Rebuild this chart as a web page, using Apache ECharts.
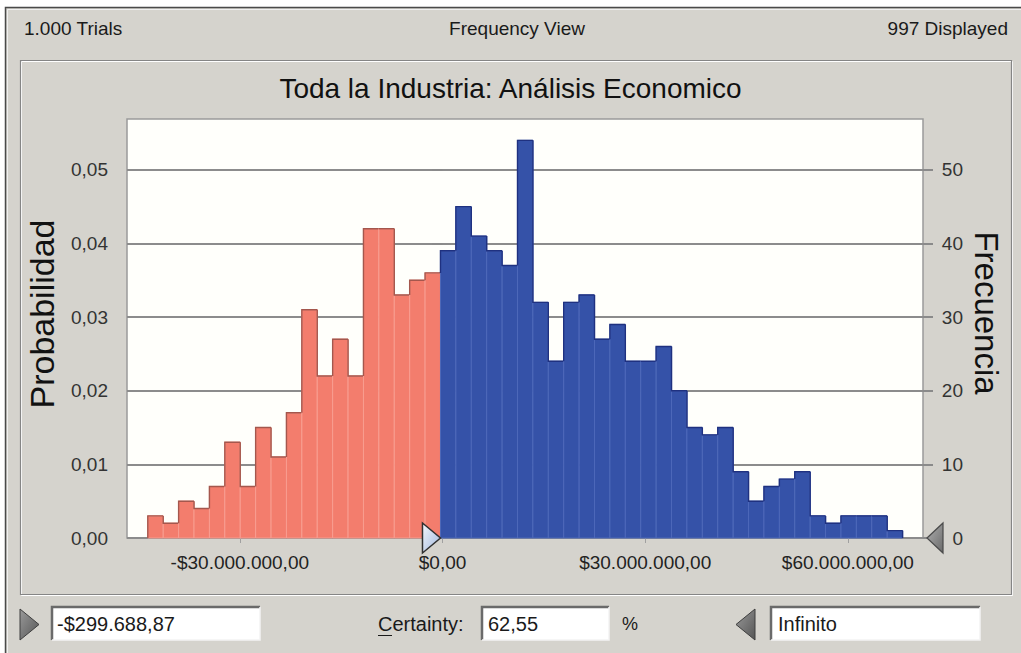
<!DOCTYPE html>
<html><head><meta charset="utf-8">
<script src="https://cdn.jsdelivr.net/npm/echarts@6/dist/echarts.min.js"></script>
<style>html,body{margin:0;padding:0;background:#fff;}#c{width:1021px;height:653px;}</style>
</head><body><div id="c"></div>
<script>
// ---- data ----
const frequencies = [3,2,5,4,7,13,7,15,11,17,31,22,27,22,42,42,33,35,36,
  39,45,41,39,37,54,32,24,32,33,27,29,24,24,26,20,15,14,15,9,5,7,8,9,3,2,3,3,3,1];
const binStart = -43620000;
const binWidth = 2280000;
const certaintyLower = -299688.87;
const certaintyPct = 62.55;
const trials = 1000;
const displayed = 997;
const xTicks = [-30000000, 0, 30000000, 60000000];
const countTicks = [0, 10, 20, 30, 40, 50];
const probTicks = [0, 0.01, 0.02, 0.03, 0.04, 0.05];
const xMin = -46700000, xMax = 71120000;
const countMax = 56.9;
const chartTitle = 'Toda la Industria: Análisis Economico';
const leftName = 'Probabilidad', rightName = 'Frecuencia';

// ---- helpers ----
function fmtMoney(v){
  const neg = v < 0; const a = Math.abs(v);
  const parts = a.toFixed(2).split('.');
  const ip = parts[0].replace(/\B(?=(\d{3})+(?!\d))/g, '.');
  return (neg ? '-' : '') + '$' + ip + ',' + parts[1];
}
function fmtInt(v){ return String(v).replace(/\B(?=(\d{3})+(?!\d))/g, '.'); }

const barData = frequencies.map((c, i) => [binStart + i*binWidth, binStart + (i+1)*binWidth, c]);
const FONT = 'Liberation Sans, Arial, sans-serif';

function renderBars(params, api){
  const x0 = api.value(0), x1 = api.value(1), c = api.value(2);
  const idx = params.dataIndex;
  const prev = idx > 0 ? frequencies[idx-1] : 0;
  const pTop = api.coord([x0, c]);
  const pBot = api.coord([x1, 0]);
  const pPrev = api.coord([x0, prev]);
  const red = x1 <= certaintyLower + 1;
  const fill = red ? '#f37d6d' : '#3552a8';
  const sep = red ? '#f89d90' : '#4d68b9';
  const edge = red ? '#a4574d' : '#1f3180';
  const children = [
    {type:'rect', shape:{x:pTop[0], y:pTop[1], width:pBot[0]-pTop[0], height:pBot[1]-pTop[1]},
     style:{fill:fill, stroke:sep, lineWidth:1}},
    {type:'polyline', shape:{points:[[pTop[0], pPrev[1]], [pTop[0], pTop[1]], [pBot[0], pTop[1]]]},
     style:{fill:null, stroke:edge, lineWidth:1.4}}
  ];
  if (idx === frequencies.length - 1) {
    children.push({type:'line', shape:{x1:pBot[0], y1:pTop[1], x2:pBot[0], y2:pBot[1]},
      style:{stroke:edge, lineWidth:1.4}});
  }
  return {type:'group', children};
}

function renderMarkers(params, api){
  const x = api.value(0);
  const p = api.coord([x, 0]);
  if (params.dataIndex === 0) {
    return {type:'polygon', shape:{points:[[p[0]-18, p[1]-15], [p[0], p[1]], [p[0]-18, p[1]+15]]},
      style:{fill:{type:'linear', x:0, y:0, x2:1, y2:1, colorStops:[{offset:0,color:'#f4f7fc'},{offset:1,color:'#9fb6dc'}]},
             stroke:'#303030', lineWidth:1.5}};
  }
  return {type:'polygon', shape:{points:[[p[0]+4, p[1]], [p[0]+20, p[1]-15], [p[0]+20, p[1]+15]]},
    style:{fill:{type:'linear', x:0, y:0, x2:1, y2:1, colorStops:[{offset:0,color:'#b0b0b0'},{offset:1,color:'#6a6a6a'}]},
           stroke:'#4a4a4a', lineWidth:1.2}};
}

function sunkenBox(x, y, w, h){
  return [
    {type:'rect', shape:{x:x, y:y, width:w, height:h}, style:{fill:'#ffffff'}},
    {type:'polyline', shape:{points:[[x, y+h], [x, y], [x+w, y]]}, style:{fill:null, stroke:'#6a6a6a', lineWidth:2.5}},
    {type:'polyline', shape:{points:[[x+w, y], [x+w, y+h], [x, y+h]]}, style:{fill:null, stroke:'#f4f4f4', lineWidth:1.5}}
  ];
}
function txt(x, y, text, align, size){
  return {type:'text', x:x, y:y, style:{text:text, x:0, y:0, align:align||'left', verticalAlign:'middle',
    fontSize:size||19, fontFamily:FONT, fill:'#1a1a1a'}};
}

const graphics = [
  {type:'rect', shape:{x:0, y:0, width:1021, height:7}, style:{fill:'#ffffff'}},
  {type:'rect', shape:{x:0, y:0, width:5, height:653}, style:{fill:'#ffffff'}},
  {type:'polyline', shape:{points:[[5.5,653],[5.5,7.5],[1021,7.5]]}, style:{fill:null, stroke:'#4a4a4a', lineWidth:1.5}},
  {type:'polyline', shape:{points:[[7.5,653],[7.5,9.5],[1021,9.5]]}, style:{fill:null, stroke:'#f0f0f0', lineWidth:1}},
  {type:'rect', shape:{x:21.5, y:61.5, width:991, height:534}, style:{fill:null, stroke:'#ffffff', lineWidth:1}},
  {type:'rect', shape:{x:20.5, y:60.5, width:991, height:534}, style:{fill:null, stroke:'#858585', lineWidth:1.2}},
  txt(24, 28, fmtInt(trials) + ' Trials', 'left'),
  txt(517, 28, 'Frequency View', 'center'),
  txt(1008, 28, displayed + ' Displayed', 'right'),
  {type:'text', x:42, y:314, rotation:Math.PI/2,
   style:{text:leftName, x:0, y:0, align:'center', verticalAlign:'middle', fontSize:34, fontFamily:FONT, fill:'#111'}},
  {type:'text', x:986, y:313, rotation:-Math.PI/2,
   style:{text:rightName, x:0, y:0, align:'center', verticalAlign:'middle', fontSize:33, fontFamily:FONT, fill:'#111'}},
  {type:'polygon', shape:{points:[[20,609],[39,624.5],[20,640]]},
   style:{fill:{type:'linear', x:0, y:0, x2:1, y2:1, colorStops:[{offset:0,color:'#9a9a9a'},{offset:1,color:'#555555'}]}, stroke:'#3e3e3e', lineWidth:1}},
  ...sunkenBox(52, 607, 208, 33),
  txt(57, 624, fmtMoney(certaintyLower), 'left', 20),
  txt(378, 624, 'Certainty:', 'left', 20),
  {type:'line', shape:{x1:378, y1:635.5, x2:392, y2:635.5}, style:{stroke:'#1a1a1a', lineWidth:1}},
  ...sunkenBox(482, 607, 127, 33),
  txt(488, 624, certaintyPct.toFixed(2).replace('.', ','), 'left', 20),
  txt(622, 624, '%', 'left', 18),
  {type:'polygon', shape:{points:[[755,609],[736,624.5],[755,640]]},
   style:{fill:{type:'linear', x:0, y:0, x2:1, y2:1, colorStops:[{offset:0,color:'#9a9a9a'},{offset:1,color:'#555555'}]}, stroke:'#3e3e3e', lineWidth:1}},
  ...sunkenBox(771, 607, 209, 33),
  txt(778, 624, 'Infinito', 'left', 20)
];

const chart = echarts.init(document.getElementById('c'), null, {renderer:'svg'});
chart.setOption({
  backgroundColor:'#d5d3cd',
  animation:false,
  title:{text:chartTitle, left:'center', top:69,
    textStyle:{fontSize:28, fontWeight:'normal', fontFamily:FONT, color:'#111'}},
  grid:{left:127, right:98, top:119, bottom:115, show:true, backgroundColor:'#fffffb',
    borderColor:'#9a9a9a', borderWidth:1.5},
  xAxis:{type:'value', min:xMin, max:xMax,
    axisLine:{show:false},
    axisTick:{show:true, customValues:xTicks, length:5, lineStyle:{color:'#a0a0a0'}},
    axisLabel:{customValues:xTicks, formatter:fmtMoney, fontSize:19, margin:15, fontFamily:FONT, color:'#222'},
    splitLine:{show:false}},
  yAxis:[
    {type:'value', position:'left', min:0, max:countMax/trials, interval:0.01,
     axisLine:{show:false},
     axisTick:{show:true, customValues:probTicks, length:10, lineStyle:{color:'#8a8a8a', width:2}},
     axisLabel:{customValues:probTicks, formatter:v=>v.toFixed(2).replace('.', ','), fontSize:19, margin:19, fontFamily:FONT, color:'#333'},
     splitLine:{show:false}},
    {type:'value', position:'right', min:0, max:countMax, interval:10,
     axisLine:{show:false},
     axisTick:{show:true, customValues:countTicks, length:10, lineStyle:{color:'#8a8a8a', width:2}},
     axisLabel:{customValues:countTicks, fontSize:19, margin:40, align:'right', fontFamily:FONT, color:'#333'},
     splitLine:{show:true, lineStyle:{color:'#8c8c8c', width:2}}}
  ],
  graphic:graphics,
  series:[
    {type:'custom', name:'Frecuencia', xAxisIndex:0, yAxisIndex:1, data:barData,
     encode:{x:[0,1], y:2}, renderItem:renderBars},
    {type:'custom', name:'limits', xAxisIndex:0, yAxisIndex:1, data:[[certaintyLower],[xMax]],
     encode:{x:0}, renderItem:renderMarkers, clip:false, z:5}
  ]
});
</script></body></html>
